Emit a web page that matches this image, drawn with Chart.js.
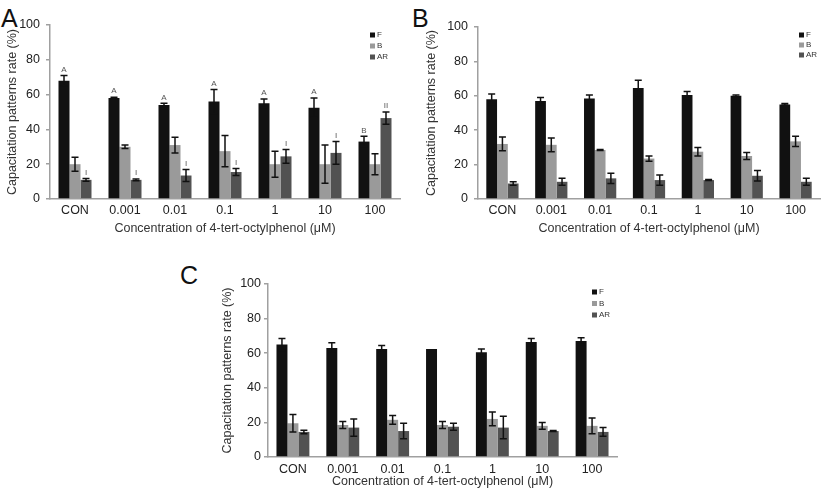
<!DOCTYPE html>
<html>
<head>
<meta charset="utf-8">
<script src="https://cdn.jsdelivr.net/npm/chart.js@4.4.1/dist/chart.umd.min.js"></script>
<style>
  html, body { margin: 0; padding: 0; background: #fff; }
  body { width: 827px; height: 492px; position: relative; overflow: hidden; font-family: "Liberation Sans", Arial, sans-serif; }
  .wrap { position: absolute; }
  .plabel { position: absolute; font-size: 25px; color: #111; line-height: 1; }
</style>
</head>
<body>
<div class="plabel" style="left:1px;top:6px;">A</div>
<div class="plabel" style="left:412px;top:6px;">B</div>
<div class="plabel" style="left:180px;top:263px;">C</div>
<div class="wrap" style="left:0;top:0;width:410px;height:240px;"><canvas id="cA"></canvas></div>
<div class="wrap" style="left:410px;top:0;width:417px;height:240px;"><canvas id="cB"></canvas></div>
<div class="wrap" style="left:180px;top:270px;width:447px;height:222px;"><canvas id="cC"></canvas></div>
<script>
const categories = ['CON', '0.001', '0.01', '0.1', '1', '10', '100'];
const seriesNames = ['F', 'B', 'AR'];
const yTicks = [0, 20, 40, 60, 80, 100];
const xTitle = 'Concentration of 4-tert-octylphenol (\u03bcM)';
const yTitle = 'Capacitation patterns rate (%)';

// Panel A
const A_F = [68, 58, 54, 56, 55, 52.5, 33];
const A_F_err = [3, 0.5, 1, 7, 2.5, 5.5, 3];
const A_B = [20, 30, 31, 27.5, 20, 20, 20];
const A_B_err = [4, 1, 4.5, 9, 7.5, 11, 6];
const A_AR = [11, 11, 13.5, 15.5, 24.5, 26.5, 46.5];
const A_AR_err = [0.8, 0.5, 3.5, 2, 4, 6.5, 3.5];
const A_F_letters = ['A', 'A', 'A', 'A', 'A', 'A', 'B'];
const A_AR_letters = ['I', 'I', 'I', 'I', 'I', 'I', 'II'];

// Panel B
const B_F = [58, 57, 58.5, 64.5, 60.5, 60, 55];
const B_F_err = [3, 2, 2, 4.5, 2, 0.5, 0.5];
const B_B = [32, 31.5, 28.5, 23.5, 27.5, 25, 33.5];
const B_B_err = [4, 4, 0.3, 1.5, 2.5, 2, 3];
const B_AR = [9, 10, 12, 11, 11, 13.5, 10];
const B_AR_err = [1, 2, 3, 3, 0.3, 3, 2];

// Panel C
const C_F = [65, 63, 62.5, 62.5, 60.5, 66.5, 67];
const C_F_err = [3.5, 3, 2, 0, 2, 2, 2];
const C_B = [19.5, 18.5, 21.5, 18.5, 22, 18, 18];
const C_B_err = [5, 2, 2.5, 2, 4, 2, 4.5];
const C_AR = [14.5, 17, 15, 17.5, 17, 15, 14.5];
const C_AR_err = [1, 5, 4.5, 2, 6.5, 0.3, 2.5];

const colors = ['#111111', '#9a9a9a', '#525252'];
const FONT = '"Liberation Sans", Arial, sans-serif';

const errorBarPlugin = {
  id: 'errorBars',
  afterDatasetsDraw(chart) {
    const ctx = chart.ctx;
    const y = chart.scales.y;
    ctx.save();
    ctx.strokeStyle = '#111';
    ctx.lineWidth = 1.5;
    chart.data.datasets.forEach((ds, di) => {
      const meta = chart.getDatasetMeta(di);
      meta.data.forEach((bar, i) => {
        const v = ds.data[i], e = ds.errors[i];
        if (!e) return;
        const yt = y.getPixelForValue(v + e);
        const yb = y.getPixelForValue(v - e);
        const x = bar.x;
        ctx.beginPath();
        ctx.moveTo(x, yt); ctx.lineTo(x, yb);
        ctx.moveTo(x - 3.5, yt); ctx.lineTo(x + 3.5, yt);
        ctx.moveTo(x - 3.5, yb); ctx.lineTo(x + 3.5, yb);
        ctx.stroke();
      });
      if (ds.letters) {
        ctx.fillStyle = '#555';
        ctx.font = '8px ' + FONT;
        ctx.textAlign = 'center';
        ctx.textBaseline = 'bottom';
        meta.data.forEach((bar, i) => {
          const top = y.getPixelForValue(ds.data[i] + (ds.errors[i] || 0));
          ctx.fillText(ds.letters[i], bar.x, top - 2);
        });
      }
    });
    ctx.restore();
  }
};

const legendPlugin = {
  id: 'miniLegend',
  afterDraw(chart, args, opts) {
    const ctx = chart.ctx;
    ctx.save();
    ctx.font = '8px ' + FONT;
    ctx.textBaseline = 'middle';
    ctx.textAlign = 'left';
    chart.data.datasets.forEach((ds, i) => {
      const yy = opts.y + i * opts.gap;
      ctx.fillStyle = ds.backgroundColor;
      ctx.fillRect(opts.x, yy - 2.5, 5, 5);
      ctx.fillStyle = '#333';
      ctx.fillText(ds.label, opts.x + 7, yy);
    });
    ctx.restore();
  }
};

function makeChart(id, F, Ferr, B, Berr, AR, Aerr, p) {
  const datasets = [
    { label: seriesNames[0], data: F, errors: Ferr, backgroundColor: colors[0], letters: p.fLetters },
    { label: seriesNames[1], data: B, errors: Berr, backgroundColor: colors[1] },
    { label: seriesNames[2], data: AR, errors: Aerr, backgroundColor: colors[2], letters: p.arLetters }
  ];
  return new Chart(document.getElementById(id), {
    type: 'bar',
    data: { labels: categories, datasets },
    plugins: [errorBarPlugin, legendPlugin],
    options: {
      responsive: true,
      maintainAspectRatio: false,
      animation: false,
      layout: { padding: { top: p.top, right: p.right, left: 0, bottom: 0 } },
      datasets: { bar: { categoryPercentage: 0.66, barPercentage: 1.0 } },
      plugins: {
        legend: { display: false },
        tooltip: { enabled: false },
        miniLegend: { x: p.legX, y: p.legY, gap: p.legGap }
      },
      scales: {
        x: {
          grid: { display: false, drawTicks: false, tickLength: 0 },
          border: { display: true, color: '#a0a0a0', width: 1.5 },
          ticks: { color: '#222', font: { size: 12.5, family: FONT }, padding: p.xTickPad, maxRotation: 0 },
          title: { display: true, text: xTitle, color: '#333', font: { size: 12.5, family: FONT }, padding: { top: 0, bottom: p.xTitlePad } },
          afterFit: (s) => { s.height = p.xH; }
        },
        y: {
          min: 0, max: 100,
          afterBuildTicks: (s) => { s.ticks = yTicks.map(v => ({ value: v })); },
          grid: { drawOnChartArea: false, drawTicks: true, tickLength: 4, color: '#a0a0a0', lineWidth: 1.5 },
          border: { display: true, color: '#a0a0a0', width: 1.5 },
          ticks: { color: '#222', font: { size: 12.5, family: FONT }, padding: p.yTickPad },
          title: { display: true, text: yTitle, color: '#333', font: { size: 12.5, family: FONT }, padding: { top: p.yTitlePad, bottom: 0 } },
          afterFit: (s) => { s.width = p.yW; }
        }
      }
    }
  });
}

makeChart('cA', A_F, A_F_err, A_B, A_B_err, A_AR, A_AR_err, {
  top: 25, right: 10, yW: 50, xH: 41, xTickPad: 4, xTitlePad: 4, yTickPad: 6, yTitlePad: 5,
  legX: 370, legY: 35, legGap: 11, fLetters: A_F_letters, arLetters: A_AR_letters
});
makeChart('cB', B_F, B_F_err, B_B, B_B_err, B_AR, B_AR_err, {
  top: 27, right: 7, yW: 68, xH: 41, xTickPad: 4, xTitlePad: 4, yTickPad: 6, yTitlePad: 14,
  legX: 389, legY: 35, legGap: 10
});
makeChart('cC', C_F, C_F_err, C_B, C_B_err, C_AR, C_AR_err, {
  top: 14, right: 10, yW: 88, xH: 35, xTickPad: 5, xTitlePad: 3, yTickPad: 3, yTitlePad: 40,
  legX: 412, legY: 22, legGap: 11.5
});
</script>
</body>
</html>
